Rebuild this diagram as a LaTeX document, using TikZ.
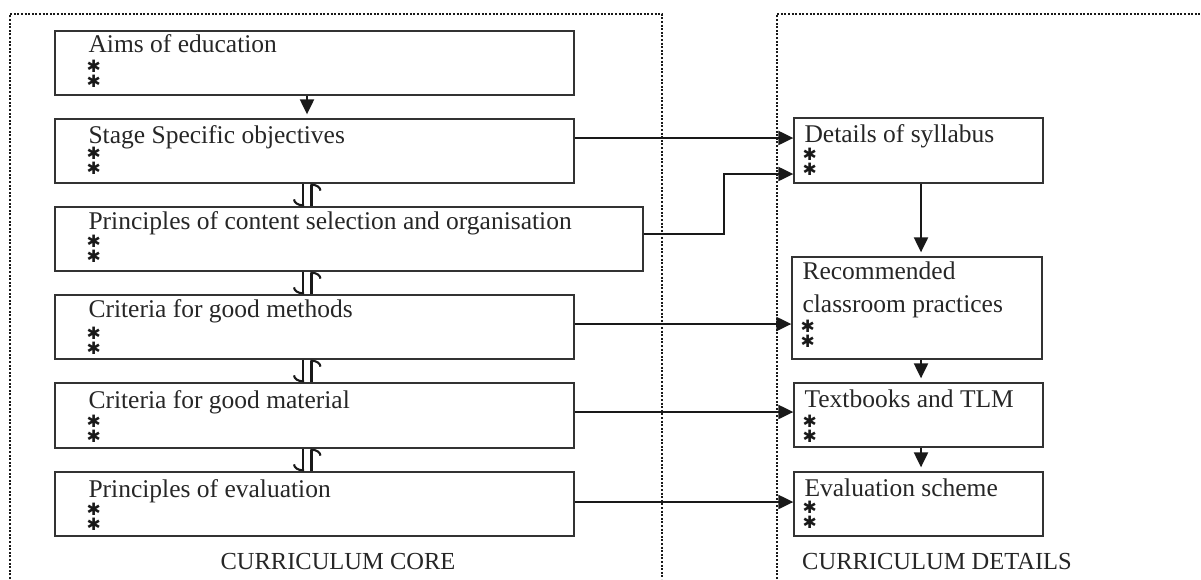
\documentclass[tikz,border=0pt]{standalone}
\usepackage{fontspec}
\setmainfont{Liberation Serif}
\newfontfamily\starfont{DejaVu Sans}
\usetikzlibrary{arrows.meta,calc}
\newcommand\blabel[6]{%
  \node[ttl] (#1-t) at ($(#2.north west)+(#3,#4)$) {#5};
  \node[star] (#1-s1) at ($(#2.north west)+(#3+5.5,#6)$) {✱};
  \node[star] (#1-s2) at ($(#2.north west)+(#3+5.5,#6+15)$) {✱};
}
\begin{document}
\begin{tikzpicture}[x=1pt,y=-1pt,
  box/.style={draw=black!80, line width=1.3pt, inner sep=0pt, rectangle},
  ttl/.style={font=\fontsize{25.5}{30}\selectfont, inner sep=0pt, anchor=base west, text=black!85},
  star/.style={font=\starfont\fontsize{17}{17}\selectfont, inner sep=0pt, text=black!90},
  lab/.style={font=\fontsize{24.5}{28}\selectfont, inner sep=0pt, anchor=base, text=black!85},
  arr/.style={line width=2.1pt, draw=black!90, -{Triangle[length=15pt,width=14pt]}},
  varr/.style={arr, shorten >=4pt},
  harp/.style={line width=2.1pt, draw=black!90, -{Arc Barb[harpoon,swap,length=7pt,width=20pt,line width=2.1pt]}},
  frame/.style={line width=2.6pt, draw=black!90, dash pattern=on 2pt off 1.6pt}
]
\useasboundingbox (0,0) rectangle (1201,579);

% frames
\draw[frame] (10,579) -- (10,14) -- (662,14) -- (662,579);
\draw[frame] (777,579) -- (777,14) -- (1201,14);

% left boxes
\node[box, minimum width=519pt, minimum height=64pt] (aims) at (314.5,63) {};
\node[box, minimum width=519pt, minimum height=64pt] (stage) at (314.5,151) {};
\node[box, minimum width=588pt, minimum height=64pt] (content) at (349,239) {};
\node[box, minimum width=519pt, minimum height=64pt] (methods) at (314.5,327) {};
\node[box, minimum width=519pt, minimum height=65pt] (material) at (314.5,415.5) {};
\node[box, minimum width=519pt, minimum height=64pt] (evalp) at (314.5,504) {};

% right boxes
\node[box, minimum width=249pt, minimum height=65pt] (details) at (918.5,150.5) {};
\node[box, minimum width=250pt, minimum height=102pt] (recom) at (917,308) {};
\node[box, minimum width=249pt, minimum height=64pt] (textb) at (918.5,415) {};
\node[box, minimum width=249pt, minimum height=64pt] (evals) at (918.5,504) {};

% texts
\blabel{aims}{aims}{34}{22}{Aims of education}{36}
\blabel{stage}{stage}{34}{25}{Stage Specific objectives}{35}
\blabel{content}{content}{34}{23}{Principles of content selection and organisation}{35}
\blabel{methods}{methods}{34}{23}{Criteria for good methods}{39}
\blabel{material}{material}{34}{26}{Criteria for good material}{39}
\blabel{evalp}{evalp}{34}{26}{Principles of evaluation}{38}
\blabel{details}{details}{11}{25}{Details of syllabus}{37}
\node[ttl] (recom-t0) at ($(recom.north west)+(11,23)$) {Recommended};
\blabel{recom}{recom}{11}{56}{classroom practices}{70}
\blabel{textb}{textb}{11}{25}{Textbooks and TLM}{39}
\blabel{evals}{evals}{11}{25}{Evaluation scheme}{36}

\node[lab] (core) at (338,569) {CURRICULUM CORE};
\node[lab] (det) at (937,569) {CURRICULUM DETAILS};

% connectors
\draw[varr] ($(aims.south)+(-7.5,0)$) coordinate (a1) -- (a1 |- stage.north);
\draw[arr] ($(stage.east)+(0,-13)$) coordinate (s1) -- (s1 -| details.west);
\draw[arr] ($(content.east)+(0,-5)$) -- ++(80,0) |- ($(details.west)+(0,23.5)$);
\draw[arr] ($(methods.east)+(0,-3)$) coordinate (m1) -- (m1 -| recom.west);
\draw[arr] ($(material.east)+(0,-3.5)$) coordinate (t1) -- (t1 -| textb.west);
\draw[arr] ($(evalp.east)+(0,-2)$) coordinate (e1) -- (e1 -| evals.west);

\draw[varr] ($(details.south)+(2.5,0)$) coordinate (d1) -- (d1 |- recom.north);
\draw[varr] ($(recom.south)+(4,0)$) coordinate (r1) -- (r1 |- textb.north);
\draw[varr] ($(textb.south)+(2.5,0)$) coordinate (x1) -- (x1 |- evals.north);

\foreach \u/\l in {stage/content, content/methods, methods/material, material/evalp} {
  \draw[harp] ($(\u.south -| stage.south)+(-11.5,0)$) -- ($(\l.north -| stage.north)+(-11.5,0)$);
  \draw[harp] ($(\l.north -| stage.north)+(-3,0)$) -- ($(\u.south -| stage.south)+(-3,0)$);
}
\end{tikzpicture}
\end{document}
